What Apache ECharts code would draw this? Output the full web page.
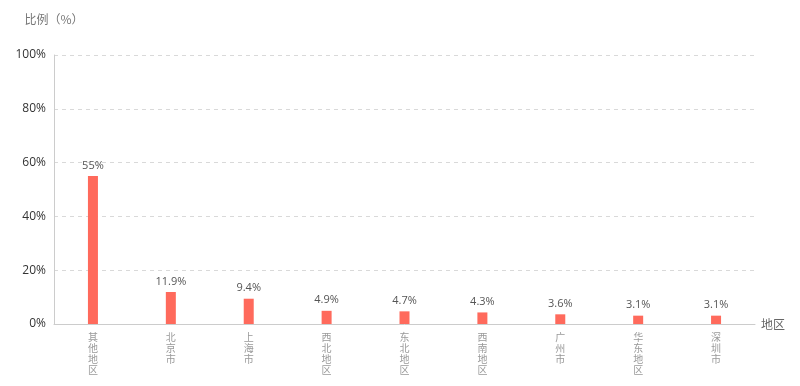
<!DOCTYPE html>
<html>
<head>
<meta charset="utf-8">
<script src="https://cdn.jsdelivr.net/npm/echarts@6/dist/echarts.min.js"></script>
<style>html,body{margin:0;padding:0;background:#fff;}#c{width:800px;height:386px;}</style>
</head>
<body>
<div id="c"></div>
<script>
const categories = ['其他地区','北京市','上海市','西北地区','东北地区','西南地区','广州市','华东地区','深圳市'];
const values = [55, 11.9, 9.4, 4.9, 4.7, 4.3, 3.6, 3.1, 3.1];
const yTicks = [0, 20, 40, 60, 80, 100];

const chart = echarts.init(document.getElementById('c'), null, {renderer: 'canvas'});
chart.setOption({
  animation: false,
  grid: {left: 54, right: 45, top: 55, bottom: 62},
  xAxis: {
    type: 'category',
    data: categories,
    name: '地区',
    nameGap: 6,
    nameTextStyle: {color: '#666', fontSize: 12, fontFamily: 'Noto Sans CJK SC'},
    axisLine: {lineStyle: {color: '#ccc'}},
    axisTick: {show: false},
    axisLabel: {
      color: '#999', fontSize: 10, lineHeight: 11, margin: 8,
      fontFamily: 'Noto Sans CJK SC',
      width: 20, overflow: 'none',
      formatter: v => v.split('').join('\n')
    }
  },
  yAxis: {
    type: 'value',
    min: yTicks[0], max: yTicks[yTicks.length - 1], interval: 20,
    name: '比例（%）',
    nameGap: 30,
    nameTextStyle: {color: '#777', fontSize: 12, fontFamily: 'Noto Sans CJK SC'},
    axisLine: {show: true, lineStyle: {color: '#ccc'}},
    axisTick: {show: false},
    axisLabel: {color: '#333', fontSize: 12, formatter: '{value}%', fontFamily: 'Open Sans'},
    splitLine: {lineStyle: {color: '#d9d9d9', type: [4, 4]}}
  },
  series: [{
    type: 'bar',
    data: values,
    barWidth: 10,
    itemStyle: {color: '#ff6a5c'},
    label: {show: true, position: 'top', color: '#555', fontSize: 11, fontFamily: 'Open Sans', formatter: '{c}%'}
  }]
});
</script>
</body>
</html>
